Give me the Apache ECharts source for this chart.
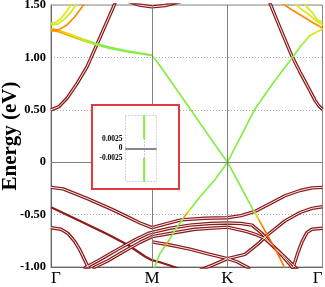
<!DOCTYPE html>
<html><head><meta charset="utf-8">
<script src="https://cdn.jsdelivr.net/npm/echarts@6/dist/echarts.min.js"></script>
<style>html,body{margin:0;padding:0;background:#fff}#c{width:325px;height:287px}</style>
</head><body><div id="c"></div>
<script>
// k-path positions (distance along path) and labels
const xTicks = [0, 101, 176.5, 271.5];
const xTickLabels = ['Γ', 'M', 'K', 'Γ'];
const yTicks = [-1, -0.5, 0, 0.5, 1, 1.5];
const yTickLabels = ['-1.00', '-0.50', '0', '0.50', '1.00', '1.50'];
const insetTicks = [-0.0025, 0, 0.0025];
const insetTickLabels = ['-0.0025', '0', '0.0025'];

// dark-red (double) bands: [k, E]
const cb1 = [[0,0.50],[8,0.53],[16,0.61],[26,0.75],[36,0.91],[49,1.19],[64,1.516],[66,1.56]];
const cb2 = [[218,1.54],[230,1.26],[241,1.01],[249,0.86],[258,0.70],[264,0.59],[268,0.535],[271.5,0.505]];
const cb3 = [[75,1.54],[88,1.50],[101,1.482],[114,1.495],[133,1.54]];
const v1 = [[0,-0.24],[12,-0.255],[24,-0.30],[37,-0.35],[49,-0.40],[62,-0.455],[74,-0.51],[89,-0.58],[101,-0.625],[114,-0.59],[130,-0.55],[154,-0.535],[176.5,-0.53],[190,-0.51],[204,-0.47],[214,-0.42],[224,-0.37],[234,-0.32],[249,-0.27],[261,-0.245],[271.5,-0.24]];
const v3 = [[0,-0.625],[10,-0.64],[17,-0.68],[24,-0.76],[29,-0.84],[34,-0.94],[37,-1.0],[39,-1.04]];
const r1 = [[33,-1.02],[35.3,-1.0],[49,-0.93],[57,-0.885],[69,-0.82],[84,-0.74],[97,-0.68],[101,-0.67],[119,-0.63],[139,-0.60],[159,-0.585],[176.5,-0.58],[190,-0.585],[201,-0.60],[211,-0.68],[219,-0.77],[231,-0.89],[241,-1.0],[244,-1.04]];
const r2 = [[42,-1.02],[44,-1.0],[57,-0.94],[74,-0.845],[89,-0.765],[101,-0.71],[119,-0.68],[144,-0.64],[176.5,-0.62],[195,-0.66],[205,-0.69],[214,-0.73],[230,-0.87],[244,-1.0],[247,-1.03]];
const mk4 = [[101,-0.76],[119,-0.79],[139,-0.83],[159,-0.88],[176.5,-0.92],[186,-0.95],[196,-1.0],[199,-1.02]];
const kg3 = [[149,-1.03],[162,-0.98],[176.5,-0.92],[194,-0.88],[207,-0.78],[217,-0.69],[234,-0.56],[249,-0.48],[261,-0.44],[271.5,-0.425]];
const kg4 = [[271.5,-0.63],[261,-0.64],[256,-0.67],[251,-0.76],[247,-0.86],[244,-0.95],[241,-1.03]];
// single dark band
const v2 = [[0,-0.43],[29,-0.56],[57,-0.69],[77,-0.79],[94,-0.90],[101,-0.935],[109,-0.955],[119,-0.985],[129,-1.02]];

// coloured bands
const ul1a = [[0,1.262],[9,1.24],[19,1.205],[32,1.16],[45.7,1.12],[59,1.085],[75.7,1.055],[89,1.035],[101,1.02]];
const ul1b = [[0,1.277],[9,1.255],[19,1.22],[32,1.175],[45.7,1.13],[59,1.095],[75.7,1.062],[89,1.04],[101,1.022]];
const ul2 = [[0,1.325],[5,1.335],[10,1.37],[15,1.43],[20,1.5],[22,1.53]];
const ul2b = [[0,1.31],[7,1.32],[13,1.36],[19,1.42],[25,1.5],[27,1.53]];
const ul3 = [[0,1.25],[8,1.265],[16,1.31],[24,1.39],[31,1.48],[34,1.53]];
const ur1 = [[271.5,1.335],[266,1.36],[262,1.42],[257,1.47],[252,1.53]];
const ur2 = [[271.5,1.31],[265,1.35],[259,1.40],[249,1.47],[239,1.55]];
const ur3 = [[271.5,1.28],[262,1.33],[252,1.39],[240,1.46],[229,1.53]];
const dirac1 = [[101,1.02],[109,0.92],[139,0.51],[164,0.166],[176.5,0]];
const dirac2 = [[176.5,0],[163.7,-0.17],[149,-0.33],[135,-0.50],[124,-0.65],[117,-0.76],[109,-0.87],[103.7,-1.0],[101,-1.06]];
const dirac3 = [[176.5,0],[189,0.23],[204,0.51],[224,0.78],[240.7,0.99],[249,1.10],[259,1.21],[271.5,1.27]];
const dirac4 = [[176.5,0],[189,-0.22],[199,-0.40],[209,-0.57],[219,-0.74],[226,-0.86],[232.3,-0.98],[234,-1.03]];
// inset (zoom around Dirac point)
const insetUpper = [[0.6,0.0088],[0.6,0.0025]];
const insetLower = [[0.6,-0.0025],[0.6,-0.0088]];

const SERIF = "'Liberation Serif','DejaVu Serif',serif";
const DARK = '#8a1c1c';
const G = '#84ee44', Y = '#e6e600', O = '#ff8c00', YG = '#c4ee22';
function grad(stops){return {type:'linear',x:0,y:0,x2:1,y2:0,global:false,colorStops:stops.map(s=>({offset:s[0],color:s[1]}))};}

const pairBands = [cb1, cb2, cb3, v1, v3, r1, r2, mk4, kg3, kg4];
const series = [];
pairBands.forEach((d,i)=>{
  series.push({type:'line', data:d, showSymbol:false, symbol:'none', z:2,
    lineStyle:{color:DARK, width:3.4}, silent:true,
    markLine: i===0 ? {silent:true, symbol:'none', label:{show:false},
      data:[{yAxis:0, lineStyle:{type:'solid', color:'#808080', width:1}},
            {xAxis:xTicks[1], lineStyle:{type:'solid', color:'#808080', width:1}},
            {xAxis:xTicks[2], lineStyle:{type:'solid', color:'#808080', width:1}}]} : undefined});
});
series.push({type:'line', data:v2, showSymbol:false, symbol:'none', z:2, lineStyle:{color:DARK, width:2.2}, silent:true});
pairBands.forEach(d=>{
  series.push({type:'line', data:d, showSymbol:false, symbol:'none', z:3,
    lineStyle:{color:'#fbeeee', width:1.0}, silent:true});
});
const colored = [
  [ul1a, grad([[0,O],[0.2,'#f0b000'],[0.4,'#b8f030'],[0.5,G],[1,G]])],
  [ul1b, grad([[0,'#ffa000'],[0.25,Y],[0.45,G],[1,G]])],
  [ul2, Y], [ul2b, YG], [ul3, O],
  [ur1, YG], [ur2, Y], [ur3, O],
  [dirac1, G],
  [dirac2, grad([[0,Y],[0.07,G],[0.17,G],[0.21,O],[0.25,G],[0.41,G],[0.45,O],[0.49,Y],[0.53,G],[1,G]])],
  [dirac3, grad([[0,G],[0.7,G],[0.85,YG],[1,Y]])],
  [dirac4, grad([[0,G],[0.46,G],[0.5,Y],[0.56,O],[0.75,'#f06010'],[1,O]])]
];
colored.forEach(c=>{
  series.push({type:'line', data:c[0], showSymbol:false, symbol:'none', z:4,
    lineStyle:{color:c[1], width:1.7}, silent:true});
});
// inset series
series.push({type:'line', xAxisIndex:1, yAxisIndex:1, data:insetUpper, showSymbol:false, symbol:'none', z:120,
  lineStyle:{color:G, width:2}, silent:true,
  markLine:{silent:true, symbol:'none', label:{show:false}, z:119,
    data:[{yAxis:insetTicks[0], lineStyle:{type:[1,2], color:'#999', width:1}},
          {yAxis:insetTicks[2], lineStyle:{type:[1,2], color:'#999', width:1}},
          {xAxis:0.6, lineStyle:{type:[1,2], color:'#999', width:1}},
          {yAxis:insetTicks[1], lineStyle:{type:'solid', color:'#888', width:2}}]}});
series.push({type:'line', xAxisIndex:1, yAxisIndex:1, data:insetLower, showSymbol:false, symbol:'none', z:120,
  lineStyle:{color:G, width:2}, silent:true});

const option = {
  animation:false,
  backgroundColor:'#fff',
  grid:[
    {left:51, right:2.5, top:5, bottom:20, show:true, borderColor:'#888', borderWidth:1, backgroundColor:'transparent', containLabel:false, outerBoundsMode:'none'},
    {left:125.5, top:115, width:31, height:66.7, containLabel:false, outerBoundsMode:'none'}
  ],
  xAxis:[
    {type:'value', gridIndex:0, min:0, max:271.5,
     axisLine:{show:true, onZero:false, lineStyle:{color:'#666'}}, axisTick:{show:false}, splitLine:{show:false},
     axisLabel:{customValues:xTicks, formatter:v=>xTickLabels[xTicks.indexOf(v)], fontFamily:SERIF, fontSize:17, color:'#000', margin:3,
       alignMinLabel:'left', alignMaxLabel:'right'}},
    {type:'value', gridIndex:1, min:0, max:1, z:110, axisLine:{show:false}, axisTick:{show:false}, splitLine:{show:false}, axisLabel:{show:false}}
  ],
  yAxis:[
    {type:'value', gridIndex:0, min:-1, max:1.5, interval:0.5,
     axisLine:{show:true, onZero:false, lineStyle:{color:'#666'}}, axisTick:{show:false},
     splitLine:{show:true, lineStyle:{type:[1,2], color:'#aaa', width:1}},
     axisLabel:{customValues:yTicks, formatter:v=>yTickLabels[yTicks.indexOf(v)], fontFamily:SERIF, fontWeight:'bold', fontSize:12.5, color:'#000', margin:5},
     name:'Energy (eV)', nameLocation:'middle', nameGap:30, nameMoveOverlap:false,
     nameTextStyle:{fontFamily:SERIF, fontWeight:'bold', fontSize:21, color:'#000'}},
    {type:'value', gridIndex:1, min:-0.0088, max:0.0088, z:110,
     axisLine:{show:false}, axisTick:{show:false}, splitLine:{show:false},
     axisLabel:{customValues:insetTicks, formatter:v=>insetTickLabels[insetTicks.indexOf(v)], fontFamily:SERIF, fontWeight:'bold', fontSize:7.5, color:'#000', margin:3}}
  ],
  graphic:[
    {type:'rect', z:100, shape:{x:92, y:105, width:87, height:84}, style:{fill:'#fff', stroke:'#e23a3e', lineWidth:2}},
    {type:'rect', z:105, shape:{x:125.5, y:115.5, width:31, height:66}, style:{fill:'none', stroke:'#aaa', lineWidth:1, lineDash:[1,2]}}
  ],
  series:series
};
const chart = echarts.init(document.getElementById('c'), null, {renderer:'canvas'});
chart.setOption(option);
</script></body></html>
